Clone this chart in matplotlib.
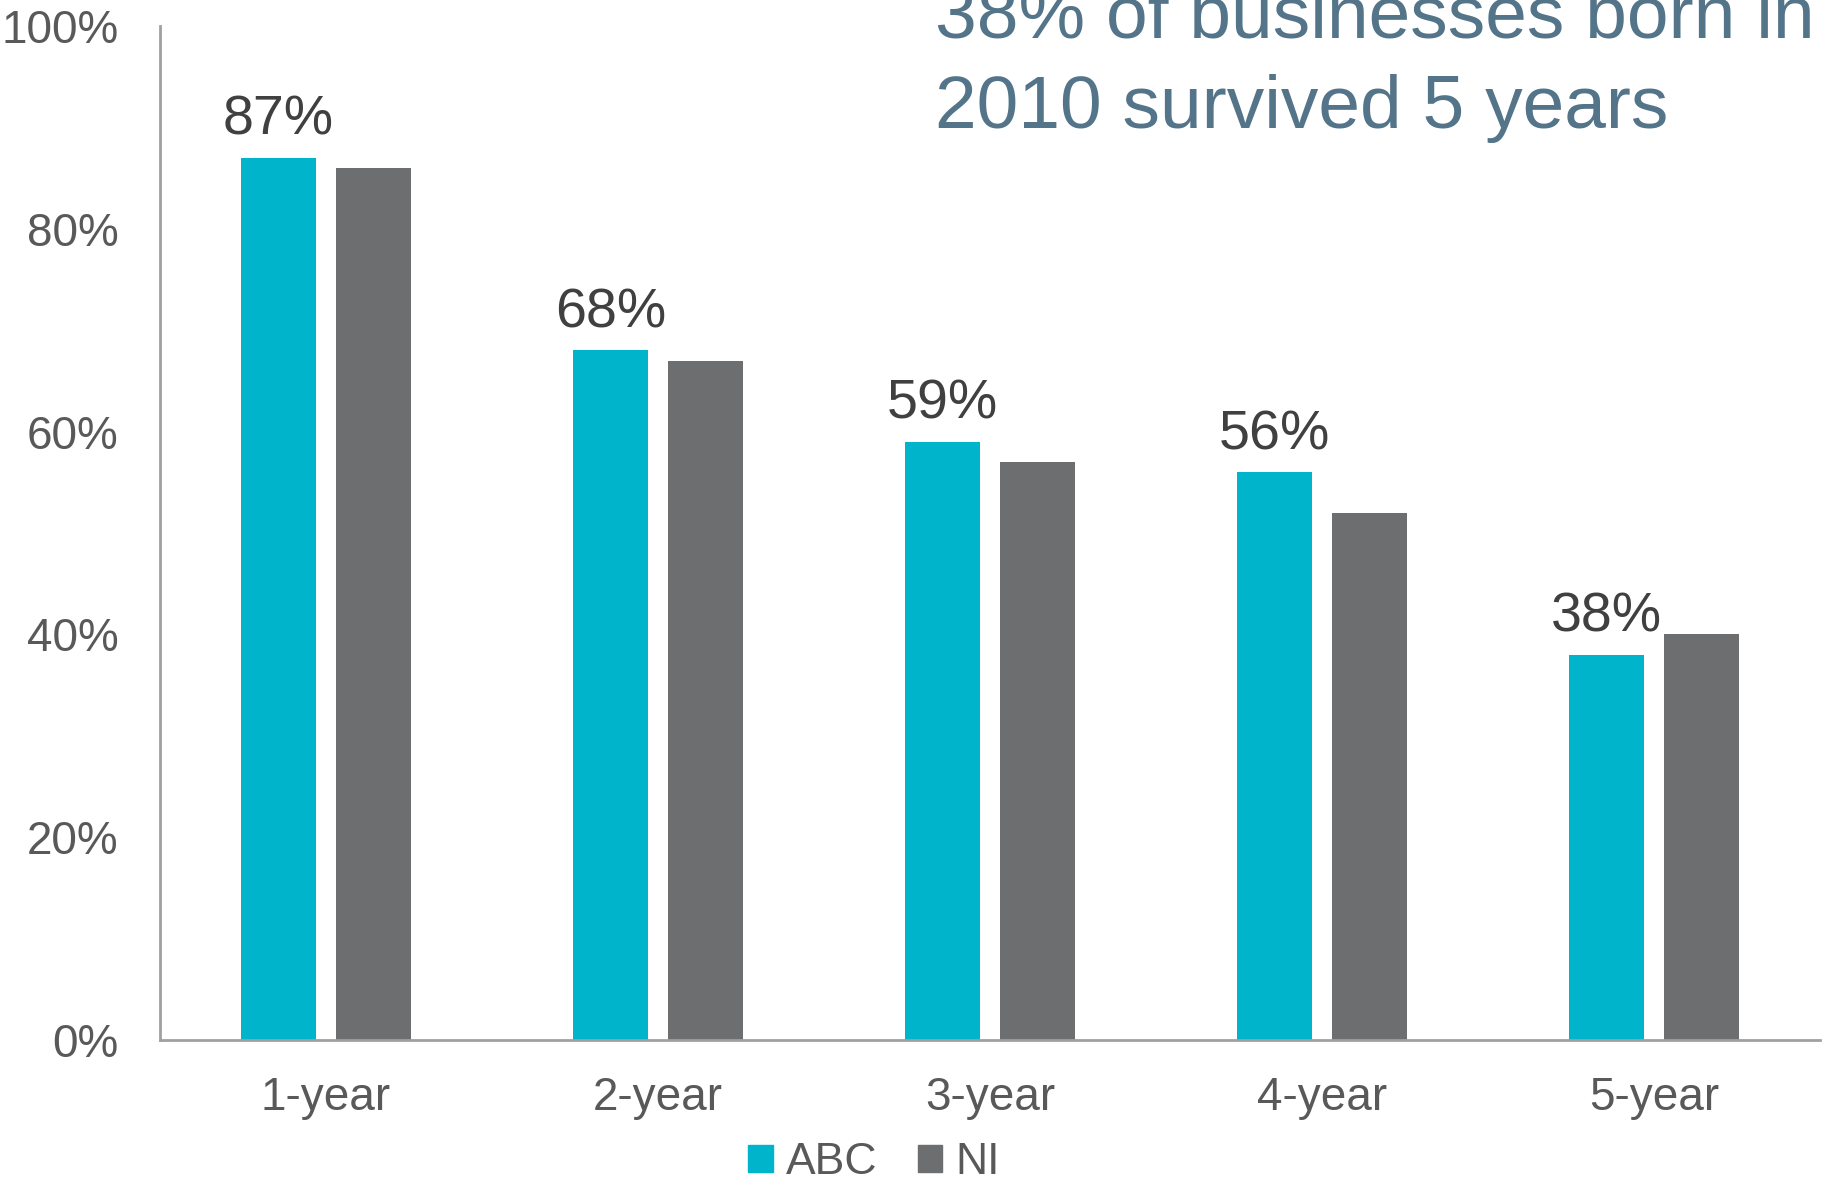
import numpy as np
import matplotlib
matplotlib.use("Agg")
import matplotlib.pyplot as plt
from matplotlib.patches import Patch

plt.rcParams['font.family'] = ['Liberation Sans', 'DejaVu Sans']

categories = ['1-year', '2-year', '3-year', '4-year', '5-year']
abc = [87, 68, 59, 56, 38]
ni = [86, 67, 57, 52, 40]
abc_labels = ['87%', '68%', '59%', '56%', '38%']
yticks = [0, 20, 40, 60, 80, 100]
ytick_labels = ['0%', '20%', '40%', '60%', '80%', '100%']

teal = '#00b4cc'
grey = '#6d6e70'

fig = plt.figure(figsize=(18.25, 11.85), dpi=100)
ax = fig.add_axes([160 / 1825, 1 - 1040 / 1185, 1660 / 1825, (1040 - 26) / 1185])

x = np.arange(len(categories))
w = 0.226
off = 0.143
ax.bar(x - off, abc, w, color=teal, label='ABC')
ax.bar(x + off, ni, w, color=grey, label='NI')

# value labels only on the ABC bars
for xi, v, lab in zip(x, abc, abc_labels):
    ax.annotate(lab, (xi - off, v), xytext=(0, 16.5), textcoords='offset points',
                ha='center', va='baseline', fontsize=40, color='#404040')

ax.set_xlim(-0.5, len(categories) - 0.5)
ax.set_ylim(0, 100)
ax.set_xticks(x)
ax.set_xticklabels(categories)
ax.set_yticks(yticks)
ax.set_yticklabels(ytick_labels)
ax.tick_params(axis='both', length=0, labelsize=33, labelcolor='#595959')
ax.tick_params(axis='y', pad=30)
ax.tick_params(axis='x', pad=26)
for s in ['top', 'right']:
    ax.spines[s].set_visible(False)
for s in ['left', 'bottom']:
    ax.spines[s].set_color('#a0a0a0')
    ax.spines[s].set_linewidth(2)

fig.text(935 / 1825, 1 - 37 / 1185, '38% of businesses born in', fontsize=54,
         color='#537489', ha='left', va='baseline')
fig.text(935 / 1825, 1 - 128 / 1185, '2010 survived 5 years', fontsize=54,
         color='#537489', ha='left', va='baseline')

handles = [Patch(color=teal, label='ABC'), Patch(color=grey, label='NI')]
fig.legend(handles=handles, loc='center', bbox_to_anchor=(874 / 1825, 1 - 1163 / 1185),
           ncol=2, frameon=False, fontsize=32, handlelength=0.55, handleheight=0.55,
           handletextpad=0.3, columnspacing=0.9, labelcolor='#595959')

fig.savefig('out.png', dpi=100)
